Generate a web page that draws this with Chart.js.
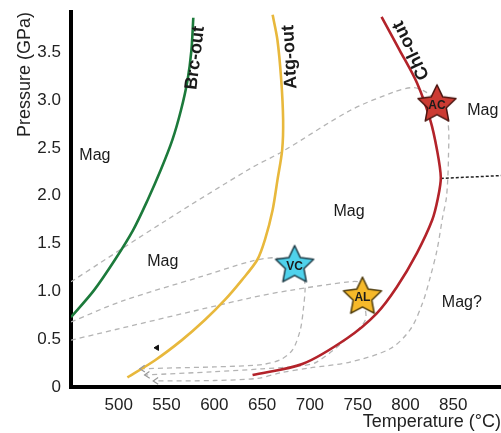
<!DOCTYPE html>
<html>
<head>
<meta charset="utf-8">
<script src="https://cdn.jsdelivr.net/npm/chart.js@4.4.0/dist/chart.umd.min.js"></script>
<style>
  html, body { margin: 0; padding: 0; background: #fff; }
  canvas { display: block; }
</style>
</head>
<body>
<canvas id="grafico" width="501" height="433"></canvas>
<script>
// Ejes
const ticksT = [500, 550, 600, 650, 700, 750, 800, 850];
const ticksP = [0, 0.5, 1.0, 1.5, 2.0, 2.5, 3.0, 3.5];

// Curvas de reacción (T en °C, P en GPa)
const brcT = [450, 474, 496, 515, 530, 544, 556, 565, 572, 576, 578];
const brcP = [0.73, 1.01, 1.33, 1.64, 1.95, 2.27, 2.58, 2.89, 3.21, 3.52, 3.86];

const atgT = [509, 538, 566, 590, 611, 629, 645, 653, 661, 666, 671, 672, 670, 666, 661];
const atgP = [0.10, 0.28, 0.49, 0.70, 0.91, 1.12, 1.33, 1.54, 1.85, 2.16, 2.48, 2.79, 3.21, 3.63, 3.89];

const chlT = [640, 692, 739, 770, 791, 812, 828, 834, 837, 833, 826, 812, 794, 775];
const chlP = [0.125, 0.24, 0.51, 0.77, 1.045, 1.40, 1.745, 1.975, 2.19, 2.48, 2.79, 3.18, 3.52, 3.87];

// Trayectorias P-T (discontinuas)
const acT = [450, 550, 637, 671, 742, 787, 808, 822, 833, 844, 845, 843, 839, 833, 826, 818, 805, 784, 742, 700, 670, 645, 600, 536];
const acP = [1.10, 1.745, 2.28, 2.46, 2.89, 3.08, 3.13, 3.08, 2.97, 2.79, 2.40, 1.99, 1.78, 1.43, 1.15, 0.88, 0.60, 0.40, 0.26, 0.20, 0.15, 0.09, 0.068, 0.063];

const vcT = [450, 504, 585, 637, 663, 684, 693, 695, 693, 690, 682, 670, 650, 600, 560, 522];
const vcP = [0.68, 0.90, 1.15, 1.31, 1.35, 1.27, 1.15, 1.04, 0.80, 0.60, 0.39, 0.29, 0.235, 0.21, 0.20, 0.19];

const alT = [450, 637, 679, 742, 752, 755, 758, 737, 707, 690, 650, 600, 527];
const alP = [0.49, 0.93, 1.01, 1.10, 1.09, 0.94, 0.70, 0.49, 0.26, 0.22, 0.19, 0.16, 0.125];

// Línea punteada negra
const punteadaT = [837, 900];
const punteadaP = [2.18, 2.21];

// Muestras (estrellas)
const muestras = ['AC', 'VC', 'AL'];
const muestraT = [833, 684, 755];
const muestraP = [2.95, 1.27, 0.94];

// Flecha pequeña
const flechaT = [540];
const flechaP = [0.41];

const anotaciones = [
    { texto: 'Mag', t: 475, p: 2.42 },
    { texto: 'Mag', t: 546, p: 1.31 },
    { texto: 'Mag', t: 741, p: 1.83 },
    { texto: 'Mag', t: 881, p: 2.89 },
    { texto: 'Mag?', t: 859, p: 0.88 },
    { texto: 'Brc-out', t: 580, p: 3.44, rot: -83, negrita: true },
    { texto: 'Atg-out', t: 679, p: 3.45, rot: -93, negrita: true },
    { texto: 'Chl-out', t: 806, p: 3.52, rot: -116, negrita: true }
];

const fuente = '"Liberation Sans", Arial, Helvetica, sans-serif';

function puntos(t, p) {
    return t.map((v, i) => ({ x: v, y: p[i] }));
}

function imagenEstrella(relleno, borde) {
    const c = document.createElement('canvas');
    c.width = 46; c.height = 46;
    const ctx = c.getContext('2d');
    const R = 20, r = 9.8;
    ctx.beginPath();
    for (let i = 0; i < 10; i++) {
        const rad = i % 2 === 0 ? R : r;
        const a = -Math.PI / 2 + i * Math.PI / 5;
        ctx.lineTo(23 + rad * Math.cos(a), 23 + rad * Math.sin(a));
    }
    ctx.closePath();
    ctx.fillStyle = relleno;
    ctx.fill();
    ctx.lineWidth = 1.5;
    ctx.lineJoin = 'round';
    ctx.strokeStyle = borde;
    ctx.stroke();
    return c;
}

const estrellas = [
    imagenEstrella('#cc3b33', '#4a1510'),
    imagenEstrella('#4fd2ec', '#1f3c47'),
    imagenEstrella('#f6b92a', '#4d3a0a')
];

function trayectoria(t, p, etiqueta) {
    return {
        label: etiqueta,
        data: puntos(t, p),
        showLine: true,
        borderColor: '#b4b4b4',
        borderWidth: 1.3,
        borderDash: [5, 4],
        pointRadius: 0,
        tension: 0.3,
        flecha: true
    };
}

function curva(t, p, color, etiqueta, tension) {
    return {
        label: etiqueta,
        data: puntos(t, p),
        showLine: true,
        borderColor: color,
        borderWidth: 2.6,
        pointRadius: 0,
        tension: tension
    };
}

// quitar el relleno automático que Chart.js añade por las etiquetas
function sinRelleno(s) {
    s.paddingLeft = 0;
    s.paddingRight = 0;
    s.paddingTop = 0;
    s.paddingBottom = 0;
}

const pluginEtiquetas = {
    id: 'etiquetas',
    afterDatasetsDraw(chart) {
        const { ctx, scales: { x, y } } = chart;
        ctx.save();
        // puntas de flecha al final de las trayectorias
        chart.data.datasets.forEach((ds, i) => {
            if (!ds.flecha) return;
            const pts = chart.getDatasetMeta(i).data;
            const a = pts[pts.length - 1], b = pts[pts.length - 2];
            const ang = Math.atan2(a.y - b.y, a.x - b.x);
            ctx.strokeStyle = '#9a9a9a';
            ctx.lineWidth = 1.2;
            ctx.beginPath();
            ctx.moveTo(a.x + 6 * Math.cos(ang + 2.55), a.y + 6 * Math.sin(ang + 2.55));
            ctx.lineTo(a.x, a.y);
            ctx.lineTo(a.x + 6 * Math.cos(ang - 2.55), a.y + 6 * Math.sin(ang - 2.55));
            ctx.stroke();
        });
        // textos
        ctx.fillStyle = '#1a1a1a';
        ctx.textAlign = 'center';
        ctx.textBaseline = 'middle';
        anotaciones.forEach(a => {
            ctx.save();
            ctx.translate(x.getPixelForValue(a.t), y.getPixelForValue(a.p));
            if (a.rot) ctx.rotate(a.rot * Math.PI / 180);
            ctx.font = (a.negrita ? 'bold 18px ' : '16px ') + fuente;
            ctx.fillText(a.texto, 0, 0);
            ctx.restore();
        });
        // nombres de las muestras
        ctx.font = 'bold 12px ' + fuente;
        muestras.forEach((m, i) => {
            ctx.fillText(m, x.getPixelForValue(muestraT[i]), y.getPixelForValue(muestraP[i]) + 1);
        });
        ctx.restore();
    }
};

new Chart(document.getElementById('grafico'), {
    type: 'scatter',
    data: {
        datasets: [
            {
                label: 'Muestras',
                data: puntos(muestraT, muestraP),
                pointStyle: estrellas,
                pointRadius: 20
            },
            {
                label: 'Flecha',
                data: puntos(flechaT, flechaP),
                pointStyle: 'triangle',
                rotation: 270,
                pointRadius: 3,
                backgroundColor: '#111',
                borderColor: '#111',
                borderWidth: 1
            },
            curva(chlT, chlP, '#b3232a', 'Chl-out', 0.3),
            curva(atgT, atgP, '#e8b83c', 'Atg-out', 0.3),
            curva(brcT, brcP, '#1c7a3b', 'Brc-out', 0.3),
            {
                label: 'Punteada',
                data: puntos(punteadaT, punteadaP),
                showLine: true,
                borderColor: '#222',
                borderWidth: 1.5,
                borderDash: [3, 2],
                pointRadius: 0
            },
            trayectoria(acT, acP, 'AC'),
            trayectoria(vcT, vcP, 'VC'),
            trayectoria(alT, alP, 'AL')
        ]
    },
    options: {
        responsive: false,
        animation: false,
        layout: { autoPadding: false, padding: { top: 12, right: 0, left: 0, bottom: 0 } },
        plugins: {
            legend: { display: false },
            tooltip: { enabled: false }
        },
        scales: {
            x: {
                type: 'linear',
                min: 450,
                max: 900,
                grid: { display: false, drawTicks: false },
                border: { display: true, color: '#000', width: 4 },
                afterBuildTicks: s => { s.ticks = ticksT.map(v => ({ value: v })); },
                afterFit: s => { s.height = 46; sinRelleno(s); },
                ticks: {
                    padding: 8,
                    color: '#222',
                    autoSkip: false,
                    maxRotation: 0,
                    font: { family: fuente, size: 17 }
                },
                title: {
                    display: true,
                    text: 'Temperature (°C)',
                    align: 'end',
                    color: '#222',
                    font: { family: fuente, size: 18 },
                    padding: { top: 0, bottom: 0 }
                }
            },
            y: {
                type: 'linear',
                min: 0,
                max: 3.92,
                grid: { display: false, drawTicks: false },
                border: { display: true, color: '#000', width: 4 },
                afterBuildTicks: s => { s.ticks = ticksP.map(v => ({ value: v })); },
                afterFit: s => { s.width = 71; sinRelleno(s); },
                ticks: {
                    padding: 10,
                    color: '#222',
                    autoSkip: false,
                    font: { family: fuente, size: 17 },
                    callback: v => v === 0 ? '0' : v.toFixed(1)
                },
                title: {
                    display: true,
                    text: 'Pressure (GPa)',
                    align: 'end',
                    color: '#222',
                    font: { family: fuente, size: 18 },
                    padding: { top: 14, bottom: 0 }
                }
            }
        }
    },
    plugins: [pluginEtiquetas]
});
</script>
</body>
</html>
